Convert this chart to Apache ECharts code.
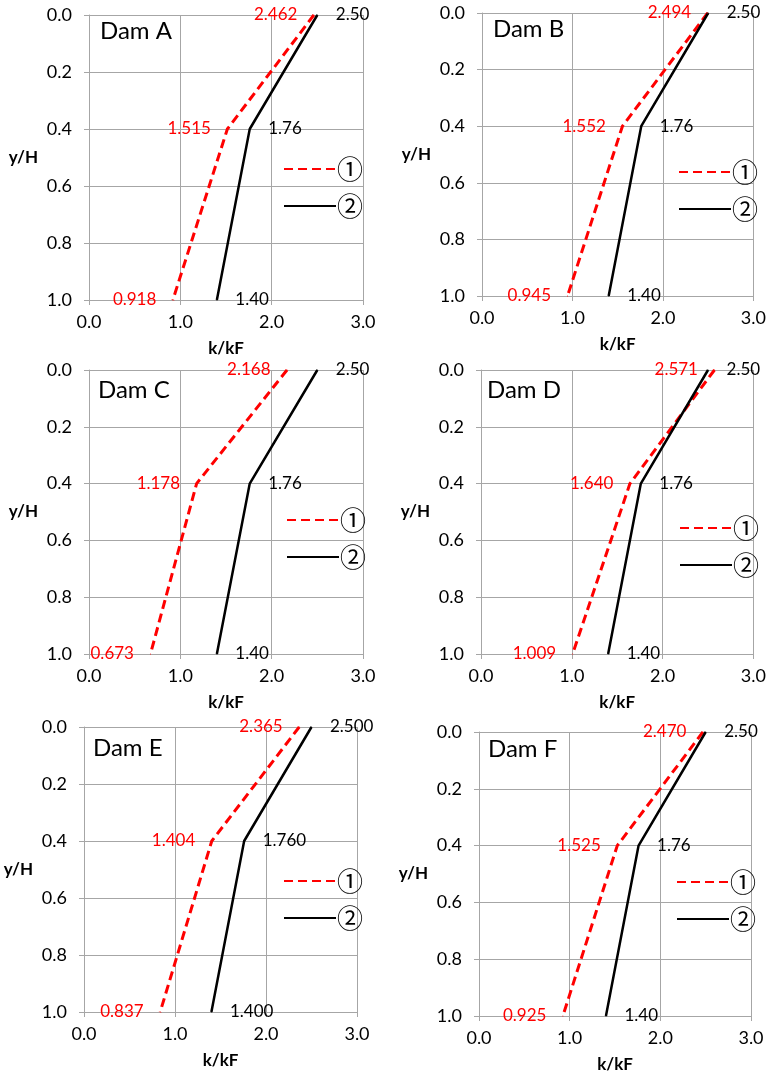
<!DOCTYPE html>
<html>
<head>
<meta charset="utf-8">
<script src="https://cdn.jsdelivr.net/npm/echarts@6/dist/echarts.min.js"></script>
<style>
  html, body { margin: 0; padding: 0; background: #fff; }
  #main { width: 769px; height: 1075px; }
</style>
</head>
<body>
<div id="main"></div>
<script>
// dam names and depth levels (y/H)
var damNames = ['Dam A', 'Dam B', 'Dam C', 'Dam D', 'Dam E', 'Dam F'];
var yLevels = [0.0, 0.4, 1.0];

// curve 1 (red dashed), k/kF at each level
var redA = [2.462, 1.515, 0.918];
var redB = [2.494, 1.552, 0.945];
var redC = [2.168, 1.178, 0.673];
var redD = [2.571, 1.640, 1.009];
var redE = [2.365, 1.404, 0.837];
var redF = [2.470, 1.525, 0.925];

// curve 2 (black solid)
var blackA = [2.50, 1.76, 1.40];
var blackB = [2.50, 1.76, 1.40];
var blackC = [2.50, 1.76, 1.40];
var blackD = [2.50, 1.76, 1.40];
var blackE = [2.50, 1.76, 1.40];
var blackF = [2.50, 1.76, 1.40];

var redSets = [redA, redB, redC, redD, redE, redF];
var blackSets = [blackA, blackB, blackC, blackD, blackE, blackF];
var blackDecimals = [2, 2, 2, 2, 3, 2];

// panel layout: plot box, title pos, legend pos
var panels = [
    { l: 89,  t: 15,  w: 274, h: 285, tx: 95,  ty: 14,  lx: 278, ly: 151 },
    { l: 482, t: 13,  w: 272, h: 283, tx: 488, ty: 12,  lx: 673, ly: 154 },
    { l: 89,  t: 370, w: 274, h: 284, tx: 93,  ty: 373, lx: 281, ly: 502 },
    { l: 481, t: 370, w: 273, h: 284, tx: 482, ty: 373, lx: 674, ly: 510 },
    { l: 84,  t: 727, w: 273, h: 285, tx: 88,  ty: 731, lx: 278, ly: 863 },
    { l: 479, t: 732, w: 272, h: 284, tx: 483, ty: 732, lx: 671, ly: 864 }
];

var FONT = 'Lato';
var gridColor = '#a6a6a6';

var myChart = echarts.init(document.getElementById('main'));

var grids = [], xAxes = [], yAxes = [], titles = [], legends = [], series = [];

panels.forEach(function (p, i) {
    grids.push({ left: p.l, top: p.t, width: p.w, height: p.h, containLabel: false });
    xAxes.push({
        gridIndex: i,
        type: 'value',
        min: 0, max: 3, interval: 1,
        name: 'k/kF',
        nameLocation: 'middle',
        nameGap: 40,
        nameTextStyle: { fontFamily: FONT, fontSize: 17, fontWeight: 'bold', color: '#000' },
        axisLine: { onZero: false, lineStyle: { color: gridColor } },
        axisTick: { show: true, length: 5, lineStyle: { color: gridColor } },
        axisLabel: { fontFamily: FONT, fontSize: 18, color: '#000', margin: 13,
            formatter: function (v) { return v.toFixed(1); } },
        splitLine: { show: true, lineStyle: { color: gridColor } }
    });
    yAxes.push({
        gridIndex: i,
        type: 'value',
        inverse: true,
        min: 0, max: 1, interval: 0.2,
        name: 'y/H',
        nameLocation: 'middle',
        nameRotate: 0,
        nameGap: 51,
        nameTextStyle: { fontFamily: FONT, fontSize: 17, fontWeight: 'bold', color: '#000' },
        axisLine: { onZero: false, lineStyle: { color: gridColor } },
        axisTick: { show: true, length: 5, lineStyle: { color: gridColor } },
        axisLabel: { fontFamily: FONT, fontSize: 18, color: '#000', margin: 17,
            formatter: function (v) { return v.toFixed(1); } },
        splitLine: { show: true, lineStyle: { color: gridColor } }
    });
    titles.push({
        text: damNames[i],
        left: p.tx, top: p.ty,
        textStyle: { fontFamily: FONT, fontSize: 24, fontWeight: 'normal', color: '#000' }
    });
    legends.push({
        data: ['①', '②'],
        orient: 'vertical',
        left: p.lx, top: p.ly,
        itemWidth: 52, itemHeight: 14, itemGap: 11,
        selectedMode: false,
        itemStyle: { opacity: 0 },
        textStyle: { fontFamily: 'Noto Sans CJK JP', fontSize: 26, color: '#000', lineHeight: 26, padding: [0, 0, 0, -4] }
    });

    var red = redSets[i], black = blackSets[i], dec = blackDecimals[i];
    series.push({
        name: '①',
        type: 'line',
        xAxisIndex: i, yAxisIndex: i,
        symbol: 'circle',
        symbolSize: 1,
        showSymbol: true,
        data: yLevels.map(function (y, j) { return [red[j], y]; }),
        lineStyle: { color: '#ff0000', width: 3, type: [9, 5] },
        itemStyle: { color: '#ff0000' },
        label: {
            show: true, position: 'left', distance: 16,
            fontFamily: FONT, fontSize: 17, color: '#ff0000',
            formatter: function (d) { return d.value[0].toFixed(3); }
        },
        labelLayout: { hideOverlap: false },
        animation: false
    });
    series.push({
        name: '②',
        type: 'line',
        xAxisIndex: i, yAxisIndex: i,
        symbol: 'circle',
        symbolSize: 1,
        showSymbol: true,
        data: yLevels.map(function (y, j) { return [black[j], y]; }),
        lineStyle: { color: '#000', width: 2.5 },
        itemStyle: { color: '#000' },
        label: {
            show: true, position: 'right', distance: 18,
            fontFamily: FONT, fontSize: 17, color: '#000',
            formatter: function (d) { return d.value[0].toFixed(dec); }
        },
        labelLayout: { hideOverlap: false },
        animation: false
    });
});

var option = {
    backgroundColor: '#fff',
    animation: false,
    title: titles,
    legend: legends,
    grid: grids,
    xAxis: xAxes,
    yAxis: yAxes,
    series: series
};

myChart.setOption(option, true);
window.onresize = myChart.resize;
</script>
</body>
</html>
